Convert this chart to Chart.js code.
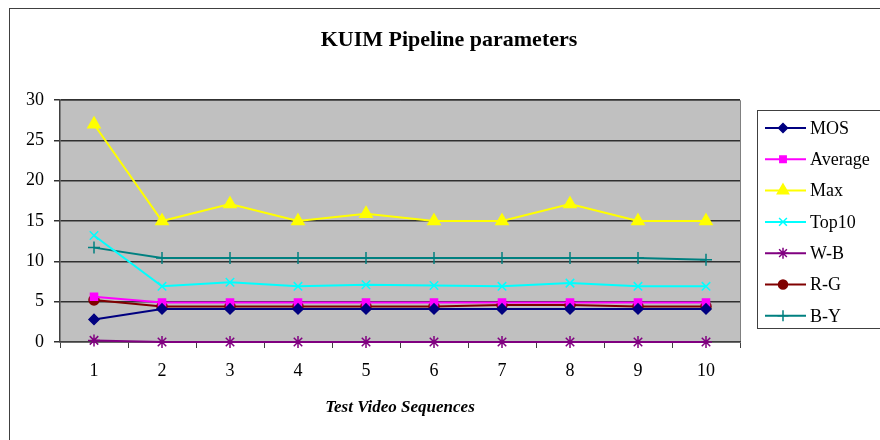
<!DOCTYPE html>
<html>
<head>
<meta charset="utf-8">
<script src="https://cdn.jsdelivr.net/npm/chart.js@4"></script>
<style>
  html, body { margin: 0; padding: 0; background: #fff; }
  #wrap { width: 880px; height: 440px; }
</style>
</head>
<body>
<div id="wrap"><canvas id="kuimChart" width="880" height="440"></canvas></div>
<script>
// Datos del grafico
const sequences = ['1', '2', '3', '4', '5', '6', '7', '8', '9', '10'];
const yTicks = [0, 5, 10, 15, 20, 25, 30];

const mos     = [2.8, 4.1, 4.1, 4.1, 4.1, 4.1, 4.1, 4.1, 4.1, 4.1];
const average = [5.6, 4.9, 4.9, 4.9, 4.9, 4.9, 4.9, 4.9, 4.9, 4.9];
const maxVal  = [27, 15, 17.1, 15, 15.9, 15, 15, 17.1, 15, 15];
const top10   = [13.2, 6.9, 7.4, 6.9, 7.1, 7.0, 6.9, 7.3, 6.9, 6.9];
const wb      = [0.2, 0, 0, 0, 0, 0, 0, 0, 0, 0];
const rg      = [5.2, 4.4, 4.4, 4.4, 4.4, 4.4, 4.6, 4.6, 4.4, 4.4];
const by      = [11.7, 10.4, 10.4, 10.4, 10.4, 10.4, 10.4, 10.4, 10.4, 10.2];

const SERIF = '"Liberation Serif", "Times New Roman", serif';

function serie(label, data, color, style, radius) {
    return {
        label: label,
        data: data,
        borderColor: color,
        backgroundColor: color,
        pointStyle: style,
        pointRadius: radius,
        pointHoverRadius: radius,
        pointBorderWidth: 1.5,
        borderWidth: 2,
        tension: 0,
        clip: false
    };
}

// Fondo gris, borde exterior, titulo y leyenda
const excelLook = {
    id: 'excelLook',
    beforeDraw(chart) {
        const ctx = chart.ctx;
        const a = chart.chartArea;
        ctx.save();
        ctx.fillStyle = '#fff';
        ctx.fillRect(0, 0, chart.width, chart.height);
        ctx.strokeStyle = '#404040';
        ctx.lineWidth = 1;
        ctx.strokeRect(9.5, 8.5, 900, 500);
        ctx.fillStyle = '#c0c0c0';
        ctx.fillRect(a.left, a.top, a.right - a.left, a.bottom - a.top);
        ctx.strokeStyle = '#808080';
        ctx.beginPath();
        ctx.moveTo(a.left, a.top + 0.5);
        ctx.lineTo(a.right + 0.5, a.top + 0.5);
        ctx.lineTo(a.right + 0.5, a.bottom);
        ctx.stroke();

        ctx.fillStyle = '#000';
        ctx.font = 'bold 22px ' + SERIF;
        ctx.textAlign = 'center';
        ctx.textBaseline = 'alphabetic';
        ctx.fillText('KUIM Pipeline parameters', 449, 46);
        ctx.restore();
    },
    afterDraw(chart) {
        const ctx = chart.ctx;
        ctx.save();
        ctx.fillStyle = '#fff';
        ctx.fillRect(757, 110, 140, 219);
        ctx.strokeStyle = '#404040';
        ctx.lineWidth = 1;
        ctx.strokeRect(757.5, 110.5, 140, 218);
        chart.data.datasets.forEach((ds, i) => {
            const y = 128 + i * 31.3;
            ctx.strokeStyle = ds.borderColor;
            ctx.lineWidth = 2;
            ctx.beginPath();
            ctx.moveTo(765, y);
            ctx.lineTo(806, y);
            ctx.stroke();
            if (Chart.helpers && Chart.helpers.drawPoint) {
                ctx.fillStyle = ds.backgroundColor;
                ctx.lineWidth = 1.5;
                Chart.helpers.drawPoint(ctx, {
                    pointStyle: ds.pointStyle,
                    radius: ds.pointRadius - 0.5,
                    borderWidth: 1.5,
                    rotation: 0
                }, 783, y);
            }
            ctx.fillStyle = '#000';
            ctx.font = '18px ' + SERIF;
            ctx.textAlign = 'left';
            ctx.textBaseline = 'middle';
            ctx.fillText(ds.label, 810, y + 1);
        });
        ctx.restore();
    }
};

const chart = new Chart(document.getElementById('kuimChart'), {
    type: 'line',
    data: {
        labels: sequences,
        datasets: [
            serie('MOS', mos, '#000080', 'rectRot', 5),
            serie('Average', average, '#ff00ff', 'rect', 5),
            serie('Max', maxVal, '#ffff00', 'triangle', 7),
            serie('Top10', top10, '#00ffff', 'crossRot', 6),
            serie('W-B', wb, '#800080', 'star', 6),
            serie('R-G', rg, '#800000', 'circle', 5),
            serie('B-Y', by, '#008080', 'cross', 6)
        ]
    },
    options: {
        responsive: false,
        animation: false,
        layout: { padding: { left: 10, right: 140, top: 100, bottom: 0 } },
        plugins: {
            legend: { display: false },
            title: { display: false },
            tooltip: { enabled: false }
        },
        scales: {
            x: {
                offset: true,
                afterFit: s => { s.height = 98; },
                grid: {
                    offset: true,
                    drawOnChartArea: false,
                    drawTicks: true,
                    tickLength: 6,
                    color: '#404040'
                },
                border: { color: '#404040', width: 1.5 },
                ticks: {
                    color: '#000',
                    padding: 12,
                    font: { family: SERIF, size: 18 }
                },
                title: {
                    display: true,
                    text: 'Test Video Sequences',
                    color: '#000',
                    font: { family: SERIF, size: 17, weight: 'bold', style: 'italic' },
                    padding: { top: 0, bottom: 22 }
                }
            },
            y: {
                min: 0,
                max: 30,
                afterFit: s => { s.width = 50; },
                afterBuildTicks: s => { s.ticks = yTicks.map(v => ({ value: v })); },
                grid: {
                    color: '#303030',
                    lineWidth: 1.5,
                    tickLength: 6
                },
                border: { color: '#404040', width: 1.5 },
                ticks: {
                    color: '#000',
                    padding: 10,
                    font: { family: SERIF, size: 18 }
                }
            }
        }
    },
    plugins: [excelLook]
});
</script>
</body>
</html>
